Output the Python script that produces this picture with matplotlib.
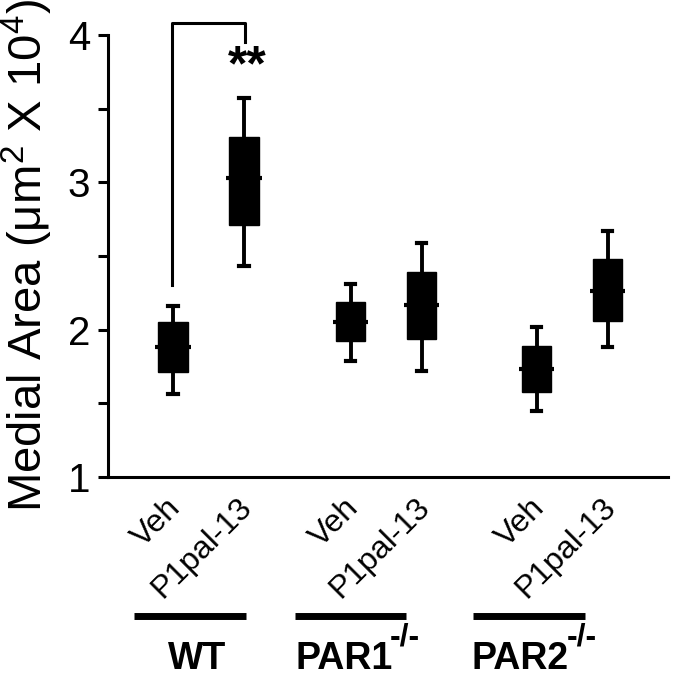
import matplotlib
matplotlib.use("Agg")
import matplotlib.pyplot as plt
import matplotlib.transforms as mtransforms
import numpy as np

plt.rcParams["font.family"] = ["Liberation Sans", "DejaVu Sans"]
plt.rcParams["mathtext.fontset"] = "custom"
plt.rcParams["mathtext.rm"] = "Liberation Sans"
plt.rcParams["mathtext.bf"] = "Liberation Sans:bold"
plt.rcParams["mathtext.it"] = "Liberation Sans:italic"

# Data (medial area, um^2 x 10^4)
treatments = ["Veh", "P1pal-13", "Veh", "P1pal-13", "Veh", "P1pal-13"]
groups = ["WT", "PAR1", "PAR2"]
group_sup = ["", "-/-", "-/-"]
whis_hi = [2.16, 3.57, 2.31, 2.59, 2.02, 2.67]
q3 = [2.05, 3.31, 2.19, 2.39, 1.89, 2.48]
medians = [1.88, 3.03, 2.05, 2.17, 1.73, 2.26]
q1 = [1.71, 2.71, 1.92, 1.94, 1.58, 2.06]
whis_lo = [1.56, 2.43, 1.79, 1.72, 1.45, 1.88]
sig_label = "**"

# Layout
positions = np.array([1.0, 2.0, 3.5, 4.5, 6.12, 7.12])
group_bars = [(0.45, 2.03), (2.72, 4.28), (5.23, 6.80)]
group_left = [0.93, 2.72, 5.21]

W, H = 673, 676
fig = plt.figure(figsize=(W / 100, H / 100), dpi=100)
ax = fig.add_axes([108 / W, 1 - 477 / H, (668 - 108) / W, (477 - 35) / H])

stats = [
    dict(med=m, q1=a, q3=b, whislo=lo, whishi=hi, fliers=[])
    for m, a, b, lo, hi in zip(medians, q1, q3, whis_lo, whis_hi)
]
ax.bxp(
    stats,
    positions=positions,
    widths=0.41,
    patch_artist=True,
    showfliers=False,
    boxprops=dict(facecolor="black", edgecolor="black", linewidth=1),
    whiskerprops=dict(color="black", linewidth=2.8),
    capprops=dict(color="black", linewidth=3.0),
    capwidths=0.13,
    medianprops=dict(linewidth=0),
)
ax.hlines(medians, positions - 0.25, positions + 0.25, colors="black", linewidth=3)

# significance bracket
ax.plot([0.99, 0.99, 2.01, 2.01], [2.30, 4.08, 4.08, 3.95], color="black",
        lw=2.2, clip_on=False)
ax.text(2.04, 3.69, sig_label, ha="center", va="baseline", fontsize=36,
        fontweight="bold", clip_on=False)

ax.set_xlim(0.085, 7.97)
ax.set_ylim(1, 4)
ax.set_yticks([1, 2, 3, 4])
ax.set_yticks([1.5, 2.5, 3.5], minor=True)
ax.tick_params(axis="y", which="both", length=7, width=2.2, direction="out",
               labelsize=29, pad=6)
ax.set_xticks([])
for s in ["top", "right"]:
    ax.spines[s].set_visible(False)
for s in ["left", "bottom"]:
    ax.spines[s].set_linewidth(2.2)

trans = mtransforms.blended_transform_factory(ax.transData, ax.transAxes)
for p, t in zip(positions, treatments):
    ax.text(p + 0.2, -0.035, t, rotation=45, ha="right", va="top", fontsize=23,
            transform=trans)
for (x0, x1), xl, g, sup in zip(group_bars, group_left, groups, group_sup):
    ax.plot([x0, x1], [-0.3145, -0.3145], color="black", lw=5,
            solid_capstyle="butt", transform=trans, clip_on=False)
    t = ax.text(xl, -0.434, g, ha="left", va="baseline", fontsize=27,
                fontweight="bold", transform=trans)
    if sup:
        ax.annotate(sup, xy=(1, 1), xycoords=t, xytext=(-2, 13),
                    textcoords="offset points", ha="left", va="top",
                    fontsize=23, fontweight="bold")

fig.text(42 / W, (H - 512) / H, r"Medial Area (μm$^2$ X 10$^4$)", rotation=90,
         rotation_mode="anchor", ha="left", va="baseline", fontsize=34)

fig.savefig("out.png", dpi=100)
